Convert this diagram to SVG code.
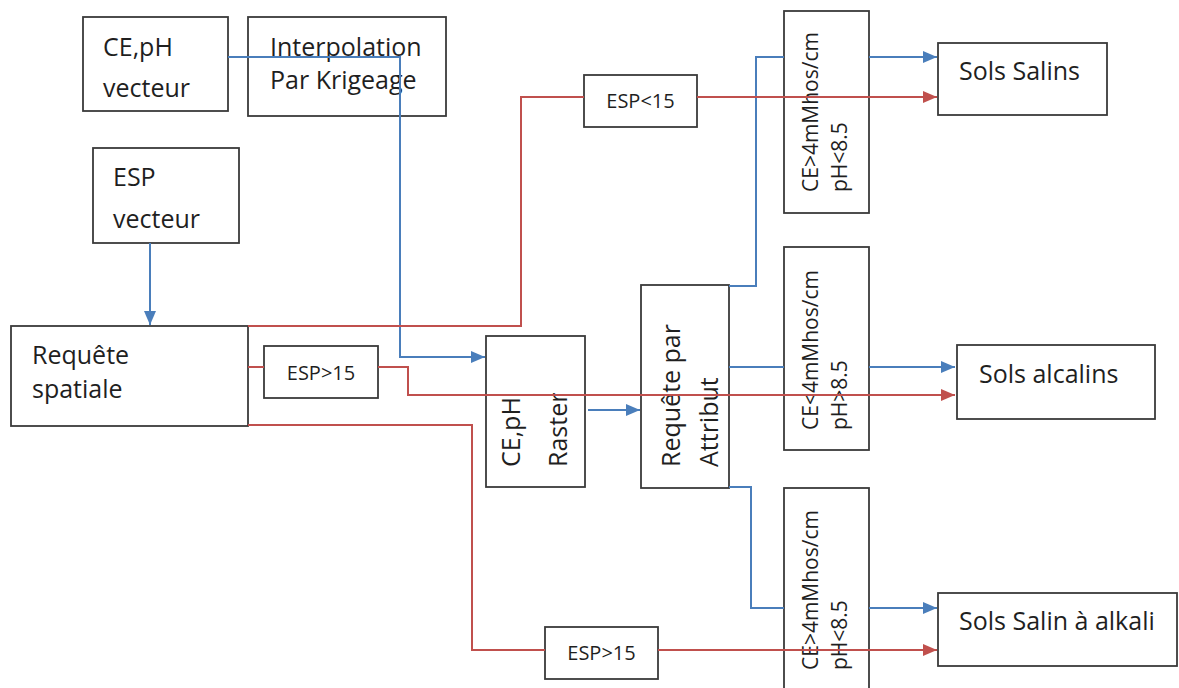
<svg xmlns="http://www.w3.org/2000/svg" width="1179" height="688" viewBox="0 0 1179 688">
<style>
.box{fill:#fff;stroke:#3a3a3a;stroke-width:1.8}
.t{font-family:"Open Sans","Liberation Sans",sans-serif;font-size:25px;fill:#1f1f1f}
.s{font-family:"Open Sans","Liberation Sans",sans-serif;font-size:20px;fill:#1f1f1f}
.v{font-family:"Open Sans","Liberation Sans",sans-serif;font-size:21px;fill:#1f1f1f}
.b{fill:none;stroke:#4a7ebb;stroke-width:2}
.r{fill:none;stroke:#c0504d;stroke-width:2}
</style>
<defs>
<marker id="ab" markerUnits="userSpaceOnUse" markerWidth="14" markerHeight="12" refX="14" refY="6" orient="auto"><path d="M0,0 L14,6 L0,12 z" fill="#4a7ebb"/></marker>
<marker id="ar" markerUnits="userSpaceOnUse" markerWidth="14" markerHeight="12" refX="14" refY="6" orient="auto"><path d="M0,0 L14,6 L0,12 z" fill="#c0504d"/></marker>
</defs>
<rect width="1179" height="688" fill="#fff"/>
<g id="nodes">
<g id="ce-ph-vecteur"><rect class="box" x="83" y="17" width="145" height="94"/><text class="t" x="103" y="56">CE,pH</text><text class="t" x="103" y="97">vecteur</text></g>
<g id="interpolation"><rect class="box" x="248" y="17" width="198" height="99"/><text class="t" x="270" y="56">Interpolation</text><text class="t" x="270" y="89">Par Krigeage</text></g>
<g id="esp-vecteur"><rect class="box" x="93" y="148" width="146" height="95"/><text class="t" x="113" y="186">ESP</text><text class="t" x="113" y="228">vecteur</text></g>
<g id="requete-spatiale"><rect class="box" x="11" y="326" width="237" height="100"/><text class="t" x="32" y="364">Requête</text><text class="t" x="32" y="398">spatiale</text></g>
<g id="esp-lt-15"><rect class="box" x="584" y="75" width="113" height="52"/><text class="s" x="640.5" y="108" text-anchor="middle">ESP&lt;15</text></g>
<g id="esp-gt-15-a"><rect class="box" x="264" y="346" width="114" height="52"/><text class="s" x="321" y="380" text-anchor="middle">ESP&gt;15</text></g>
<g id="esp-gt-15-b"><rect class="box" x="545" y="627" width="113" height="52"/><text class="s" x="601.5" y="660" text-anchor="middle">ESP&gt;15</text></g>
<g id="ce-ph-raster"><rect class="box" x="486" y="336" width="99" height="151"/><text class="t" transform="translate(520,467) rotate(-90)">CE,pH</text><text class="t" transform="translate(567,467) rotate(-90)">Raster</text></g>
<g id="requete-attribut"><rect class="box" x="641" y="285" width="88" height="203"/><text class="t" transform="translate(680,467) rotate(-90)">Requête par</text><text class="t" transform="translate(718,467) rotate(-90)">Attribut</text></g>
<g id="cond-top"><rect class="box" x="784" y="11" width="85" height="202"/><text class="v" transform="translate(818,192) rotate(-90)">CE&gt;4mMhos/cm</text><text class="v" transform="translate(847,192) rotate(-90)">pH&lt;8.5</text></g>
<g id="cond-mid"><rect class="box" x="784" y="247" width="85" height="203"/><text class="v" transform="translate(818,430) rotate(-90)">CE&lt;4mMhos/cm</text><text class="v" transform="translate(847,430) rotate(-90)">pH&gt;8.5</text></g>
<g id="cond-bottom"><rect class="box" x="784" y="488" width="85" height="215"/><text class="v" transform="translate(818,670) rotate(-90)">CE&gt;4mMhos/cm</text><text class="v" transform="translate(847,670) rotate(-90)">pH&lt;8.5</text></g>
<g id="sols-salins"><rect class="box" x="938" y="43" width="169" height="72"/><text class="t" x="959" y="80">Sols Salins</text></g>
<g id="sols-alcalins"><rect class="box" x="957" y="345" width="198" height="74"/><text class="t" x="979" y="383">Sols alcalins</text></g>
<g id="sols-salin-alkali"><rect class="box" x="938" y="593" width="239" height="73"/><text class="t" x="959" y="630">Sols Salin à alkali</text></g>
</g>
<g id="connectors">
<path class="b" d="M228,57 H400 V357 H485" marker-end="url(#ab)"/>
<path class="b" d="M150,243 V325" marker-end="url(#ab)"/>
<path class="b" d="M588,410 H640" marker-end="url(#ab)"/>
<path class="b" d="M729,286 H756 V57 H784"/>
<path class="b" d="M869,57 H937" marker-end="url(#ab)"/>
<path class="b" d="M729,367 H784"/>
<path class="b" d="M869,367 H955" marker-end="url(#ab)"/>
<path class="b" d="M729,487 H751 V608 H784"/>
<path class="b" d="M869,608 H937" marker-end="url(#ab)"/>
<path class="r" d="M248,326 H521 V97 H584"/>
<path class="r" d="M697,97 H937" marker-end="url(#ar)"/>
<path class="r" d="M248,367 H264"/>
<path class="r" d="M378,367 H408 V395 H955" marker-end="url(#ar)"/>
<path class="r" d="M248,425 H472 V650 H545"/>
<path class="r" d="M658,650 H937" marker-end="url(#ar)"/>
</g>
</svg>
